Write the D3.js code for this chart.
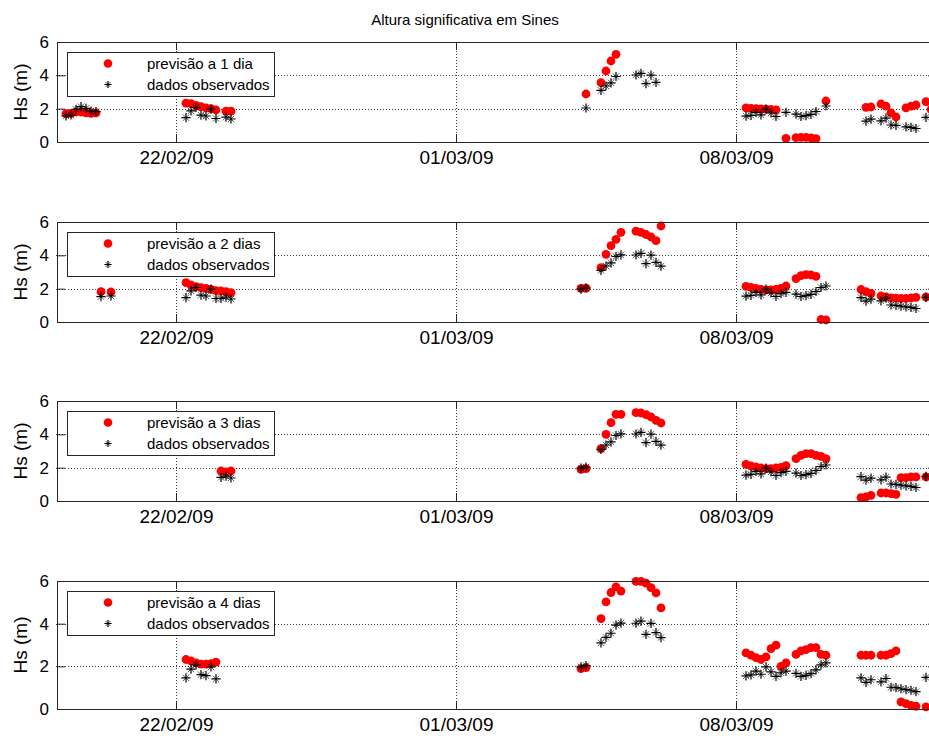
<!DOCTYPE html>
<html>
<head>
<meta charset="utf-8">
<script src="https://cdn.jsdelivr.net/npm/d3@7"></script>
<style>
  body { margin: 0; background: #fff; }
  svg { display: block; font-family: "Liberation Sans", Arial, Helvetica, sans-serif; }
</style>
</head>
<body>
<svg id="chart" width="929" height="738"></svg>
<script>
// Significant wave height at Sines: buoy observations vs. model forecasts
// at 1–4 days lead time. Every series is sampled every 3 hours; each block
// gives its first time and the consecutive values (null = no value).

const chartTitle = "Altura significativa em Sines";
const yLabel = "Hs (m)";
const obsLabel = "dados observados";
const leadLabels = ["previsão a 1 dia", "previsão a 2 dias", "previsão a 3 dias", "previsão a 4 dias"];
const xTickDates = ["2009-02-22 00:00", "2009-03-01 00:00", "2009-03-08 00:00"];
const yTickValues = [0, 2, 4, 6];
const timeDomain = ["2009-02-19 00:00", "2009-03-13 00:00"];

// observed Hs (m)
const observed = [
  { start: "2009-02-19 06:00", hs: [1.56, 1.62, 1.96, 2.12, 2.02, 1.86, 1.82, 1.52, null, 1.56] },
  { start: "2009-02-22 06:00", hs: [1.46, 1.87, 2.07, 1.61, 1.56, 1.97, 1.41, 1.42, 1.49, 1.38] },
  { start: "2009-03-04 03:00", hs: [1.97, 2.04, null, null, 3.10, 3.36, 3.55, 3.93, 4.03, null, null, 4.02, 4.12, 3.50, 4.01, 3.58, 3.35] },
  { start: "2009-03-08 06:00", hs: [1.55, 1.60, 1.78, 1.63, 1.97, 1.74, 1.53, 1.70, 1.78, null, 1.67, 1.53, 1.58, 1.66, 1.83, 2.07, 2.16] },
  { start: "2009-03-11 03:00", hs: [1.46, 1.25, 1.37, null, 1.27, 1.43, 1.02, 1.00, 0.95, 0.91, 0.88, 0.81, null, 1.48] }
];

// forecast, 1 day ahead (blocks mark the compared periods)
const forecast1 = [
  { start: "2009-02-19 06:00", hs: [1.70, 1.72, 1.80, 1.80, 1.75, 1.72, 1.75] },
  { start: "2009-02-22 06:00", hs: [2.33, 2.30, 2.20, 2.12, 2.05, 2.00, 1.92] },
  { start: "2009-02-23 06:00", hs: [1.85, 1.85] },
  { start: "2009-03-04 06:00", hs: [2.88] },
  { start: "2009-03-04 15:00", hs: [3.56, 4.26, 4.86, 5.26] },
  { start: "2009-03-05 12:00", hs: [null, null, null, null, null] },
  { start: "2009-03-08 06:00", hs: [2.05, 2.02, 2.00, 1.98, 1.97, 1.95, 1.93] },
  { start: "2009-03-09 06:00", hs: [0.22] },
  { start: "2009-03-09 12:00", hs: [0.26, 0.28, 0.28, 0.25, 0.20] },
  { start: "2009-03-10 06:00", hs: [2.46] },
  { start: "2009-03-11 06:00", hs: [2.08, 2.10] },
  { start: "2009-03-11 15:00", hs: [2.28, 2.15, 1.75, 1.50] },
  { start: "2009-03-12 06:00", hs: [2.05, 2.15, 2.22] },
  { start: "2009-03-12 18:00", hs: [2.42, 1.95] }
];

// forecast, 2 days ahead
const forecast2 = [
  { start: "2009-02-20 03:00", hs: [1.82] },
  { start: "2009-02-20 09:00", hs: [1.80] },
  { start: "2009-02-22 06:00", hs: [2.36, 2.22, 2.12, 2.06, 2.02, 1.96, 1.88, 1.86, 1.82, 1.76] },
  { start: "2009-03-04 03:00", hs: [2.02, 2.03] },
  { start: "2009-03-04 15:00", hs: [3.26, 4.06, 4.58, 4.96, 5.38] },
  { start: "2009-03-05 12:00", hs: [5.45, 5.38, 5.25, 5.10, 4.88, 5.76] },
  { start: "2009-03-08 06:00", hs: [2.14, 2.08, 2.02, 1.96, 1.92, 1.92, 1.96, 2.02, 2.16] },
  { start: "2009-03-09 12:00", hs: [2.60, 2.78, 2.84, 2.82, 2.74, 0.15, 0.12] },
  { start: "2009-03-11 03:00", hs: [1.95, 1.82, 1.72] },
  { start: "2009-03-11 15:00", hs: [1.56, 1.50, 1.45, 1.43, 1.42, 1.42, 1.44, 1.48] },
  { start: "2009-03-12 18:00", hs: [1.50] }
];

// forecast, 3 days ahead
const forecast3 = [
  { start: "2009-02-23 03:00", hs: [1.80, 1.74, 1.80] },
  { start: "2009-03-04 03:00", hs: [1.90, 1.94] },
  { start: "2009-03-04 15:00", hs: [3.14, 4.00, 4.70, 5.20, 5.20] },
  { start: "2009-03-05 12:00", hs: [5.30, 5.28, 5.18, 5.04, 4.84, 4.68] },
  { start: "2009-03-08 06:00", hs: [2.20, 2.10, 2.04, 1.98, 1.94, 1.94, 1.98, 2.02, 2.12] },
  { start: "2009-03-09 12:00", hs: [2.54, 2.74, 2.84, 2.84, 2.74, 2.68, 2.54] },
  { start: "2009-03-11 03:00", hs: [0.20, 0.24, 0.34] },
  { start: "2009-03-11 15:00", hs: [0.48, 0.48, 0.44, 0.40, 1.40, 1.40, 1.44, 1.44] },
  { start: "2009-03-12 18:00", hs: [1.44] }
];

// forecast, 4 days ahead
const forecast4 = [
  { start: "2009-02-22 06:00", hs: [2.32, 2.25, 2.16, 2.10, 2.10, 2.13, 2.20] },
  { start: "2009-03-04 03:00", hs: [1.89, 1.94] },
  { start: "2009-03-04 15:00", hs: [4.24, 5.02, 5.46, 5.72, 5.53] },
  { start: "2009-03-05 12:00", hs: [5.98, 5.98, 5.90, 5.69, 5.44, 4.74] },
  { start: "2009-03-08 06:00", hs: [2.63, 2.52, 2.41, 2.32, 2.44, 2.83, 2.99, 2.00, 2.16] },
  { start: "2009-03-09 12:00", hs: [2.56, 2.72, 2.78, 2.88, 2.88, 2.56, 2.52] },
  { start: "2009-03-11 03:00", hs: [2.52, 2.52, 2.52] },
  { start: "2009-03-11 15:00", hs: [2.52, 2.52, 2.60, 2.72, 0.33, 0.25, 0.17, 0.13] },
  { start: "2009-03-12 18:00", hs: [0.10] }
];

const forecasts = [forecast1, forecast2, forecast3, forecast4];

// ---------------------------------------------------------------------------
const parse = d3.timeParse("%Y-%m-%d %H:%M");
const fmt = d3.timeFormat("%d/%m/%y");
const STEP_HOURS = 3;

// observations keyed by timestamp
const obsByTime = new Map();
observed.forEach(b => {
  const t0 = parse(b.start);
  b.hs.forEach((v, k) => {
    if (v != null) obsByTime.set(+d3.timeHour.offset(t0, STEP_HOURS * k), v);
  });
});

const svg = d3.select("#chart");

const x = d3.scaleTime()
  .domain(timeDomain.map(parse))
  .range([56, 936]);

const panels = [
  { top: 42, bottom: 142 },
  { top: 222, bottom: 322 },
  { top: 401, bottom: 501 },
  { top: 581, bottom: 709 }
];

const axisColor = "#262626";
const gridColor = "#3a3a3a";
const red = "#ff0000";

// MATLAB-style '*' marker: a plus with lighter diagonal strokes
function drawStar(sel, r, d) {
  sel.append("path")
    .attr("d", `M${-d},${-d}L${d},${d}M${-d},${d}L${d},${-d}`)
    .attr("stroke", "#000").attr("stroke-opacity", 0.65).attr("stroke-width", 1);
  sel.append("path")
    .attr("d", `M${-r},0L${r},0M0,${-r}L0,${r}`)
    .attr("stroke", "#000").attr("stroke-width", 1.2);
}

svg.append("text")
  .attr("x", 465).attr("y", 25)
  .attr("text-anchor", "middle")
  .attr("font-size", 15)
  .attr("fill", "#000")
  .text(chartTitle);

panels.forEach((p, pi) => {
  const y = d3.scaleLinear().domain([0, 6]).range([p.bottom, p.top]);
  const g = svg.append("g");
  const x0 = x.range()[0], x1 = x.range()[1];

  // dotted grid
  const grid = g.append("g")
    .attr("stroke", gridColor).attr("stroke-width", 1)
    .attr("stroke-dasharray", "1,2");
  grid.selectAll("line.h").data([2, 4]).join("line")
    .attr("x1", x0).attr("x2", x1)
    .attr("y1", d => Math.round(y(d)) + 0.5).attr("y2", d => Math.round(y(d)) + 0.5);
  grid.selectAll("line.v").data(xTickDates.map(parse)).join("line")
    .attr("x1", d => Math.round(x(d)) + 0.5).attr("x2", d => Math.round(x(d)) + 0.5)
    .attr("y1", p.top).attr("y2", p.bottom);

  // points: forecast dots first, observed stars on top
  const fPts = [], oPts = [];
  forecasts[pi].forEach(b => {
    const t0 = parse(b.start);
    b.hs.forEach((v, k) => {
      const t = d3.timeHour.offset(t0, STEP_HOURS * k);
      if (v != null) fPts.push({ t, v });
      const o = obsByTime.get(+t);
      if (o != null) oPts.push({ t, v: o });
    });
  });

  g.append("g").selectAll("circle").data(fPts).join("circle")
    .attr("cx", d => x(d.t)).attr("cy", d => y(d.v))
    .attr("r", 4.4).attr("fill", red);

  g.append("g").selectAll("g").data(oPts).join("g")
    .attr("transform", d => `translate(${x(d.t)},${y(d.v)})`)
    .attr("fill", "none")
    .each(function () { drawStar(d3.select(this), 4.6, 3.2); });

  // axes with inward ticks
  const styleAxis = sel => {
    sel.select(".domain").remove();
    sel.selectAll(".tick line").attr("stroke", axisColor);
    sel.selectAll(".tick text").attr("fill", "#000").attr("font-family", null);
  };
  g.append("g").attr("transform", `translate(0,${p.bottom})`)
    .call(d3.axisBottom(x).tickValues(xTickDates.map(parse)).tickFormat(fmt).tickSize(-8).tickPadding(9))
    .call(styleAxis)
    .selectAll(".tick text").attr("font-size", 19);
  g.append("g").attr("transform", `translate(0,${p.top})`)
    .call(d3.axisTop(x).tickValues(xTickDates.map(parse)).tickFormat("").tickSize(-8))
    .call(styleAxis);
  g.append("g").attr("transform", `translate(${x0 + 1},0)`)
    .call(d3.axisLeft(y).tickValues(yTickValues).tickFormat(d3.format("d")).tickSize(-8).tickPadding(8))
    .call(styleAxis)
    .selectAll(".tick text").attr("font-size", 17);
  g.append("g").attr("transform", `translate(${x1},0)`)
    .call(d3.axisRight(y).tickValues(yTickValues).tickFormat("").tickSize(-8))
    .call(styleAxis);

  // frame
  const frame = g.append("g").attr("stroke", axisColor).attr("stroke-width", 1);
  frame.append("line").attr("x1", x0 + 1.5).attr("x2", x0 + 1.5).attr("y1", p.top + 0.5).attr("y2", p.bottom + 0.5);
  frame.append("line").attr("x1", x0 + 1).attr("x2", x1).attr("y1", p.top + 0.5).attr("y2", p.top + 0.5);
  frame.append("line").attr("x1", x0 + 1).attr("x2", x1).attr("y1", p.bottom + 0.5).attr("y2", p.bottom + 0.5);

  // y label
  g.append("text")
    .attr("transform", `translate(27,${(p.top + p.bottom) / 2}) rotate(-90)`)
    .attr("text-anchor", "middle")
    .attr("font-size", 19)
    .attr("fill", "#000")
    .text(yLabel);

  // legend
  const lg = g.append("g").attr("transform", `translate(67,${p.top + 10})`);
  lg.append("rect").attr("x", 0.5).attr("y", 0.5).attr("width", 207).attr("height", 44)
    .attr("fill", "#fff").attr("stroke", axisColor);
  lg.append("circle").attr("cx", 41).attr("cy", 11.5).attr("r", 4.3).attr("fill", red);
  lg.append("g").attr("transform", "translate(41,32.5)").attr("fill", "none")
    .call(s => drawStar(s, 3.6, 2.5));
  lg.append("text").attr("x", 80).attr("y", 11.5).attr("dy", "0.35em")
    .attr("font-size", 15).attr("fill", "#000").text(leadLabels[pi]);
  lg.append("text").attr("x", 80).attr("y", 32.5).attr("dy", "0.35em")
    .attr("font-size", 15).attr("fill", "#000").text(obsLabel);
});
</script>
</body>
</html>
